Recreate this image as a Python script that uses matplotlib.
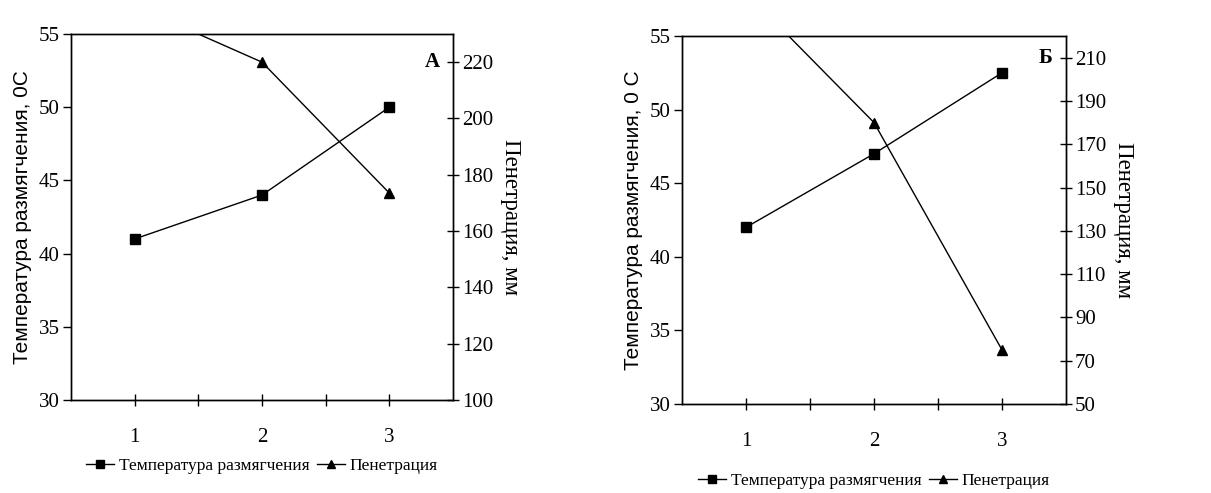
import matplotlib
matplotlib.use("Agg")
import matplotlib.pyplot as plt
from matplotlib.ticker import FixedLocator

plt.rcParams["font.family"] = ["Liberation Serif", "DejaVu Serif"]

# data
samples = [1, 2, 3]
temp_a = [41, 44, 50]
pen_a = [240, 220, 173.5]
temp_b = [42, 47, 52.5]
pen_b = [240, 180, 75]

x_labels = ["1", "2", "3"]
temp_label = "Температура размягчения"
pen_label = "Пенетрация"

W, H = 1211, 493
fig = plt.figure(figsize=(W / 100, H / 100), dpi=100)


def panel(rect, temp, pen, pen_lim, pen_ticks, ylab, letter, legend_y):
    ax = fig.add_axes(rect)
    ax2 = ax.twinx()
    l1, = ax.plot(samples, temp, color="black", lw=1.0, marker="s", ms=6.5,
                  label=temp_label)
    l2, = ax2.plot(samples, pen, color="black", lw=1.0, marker="^", ms=6.5,
                   label=pen_label)
    ax.set_xlim(0.5, 3.5)
    ax.set_ylim(30, 55)
    ax.set_yticks([30, 35, 40, 45, 50, 55])
    ax2.set_ylim(*pen_lim)
    ax2.set_yticks(pen_ticks)
    ax.set_xticks(samples)
    ax.set_xticklabels(x_labels)
    ax.xaxis.set_minor_locator(FixedLocator([1.5, 2.5]))
    ax.tick_params(axis="x", which="both", direction="inout", length=9,
                   width=1, labelsize=15, pad=16)
    ax.tick_params(axis="y", direction="out", length=6, width=1,
                   labelsize=15, pad=2)
    ax2.tick_params(axis="y", direction="inout", length=9, width=1,
                    labelsize=15, pad=2)
    ax.set_ylabel(ylab, family=["Liberation Sans", "DejaVu Sans"],
                  fontsize=15, labelpad=5)
    ax2.set_ylabel("Пенетрация, мм", fontsize=16.5, rotation=270,
                   labelpad=20)
    for a in (ax, ax2):
        for s in a.spines.values():
            s.set_linewidth(1.0)
    ax2.text(0.965, pen_ticks[-1], letter, transform=ax2.get_yaxis_transform(),
             ha="right", va="center", fontsize=15, fontweight="bold")
    ax.legend([l1, l2], [temp_label, pen_label], loc="center",
              bbox_to_anchor=(0.5, legend_y), ncol=2, frameon=False,
              fontsize=12.5, handlelength=1.6, handletextpad=0.3,
              columnspacing=0.4, markerscale=0.8)
    return ax


panel([71 / W, 93 / H, 382 / W, 366 / H], temp_a, pen_a, (100, 230),
      list(range(100, 221, 20)), "Температура размягчения, 0С", "А", -0.18)
panel([682 / W, 89 / H, 384 / W, 368 / H], temp_b, pen_b, (50, 220),
      list(range(50, 211, 20)), "Температура размягчения, 0 С", "Б", -0.21)

fig.savefig("out.png", dpi=100)
